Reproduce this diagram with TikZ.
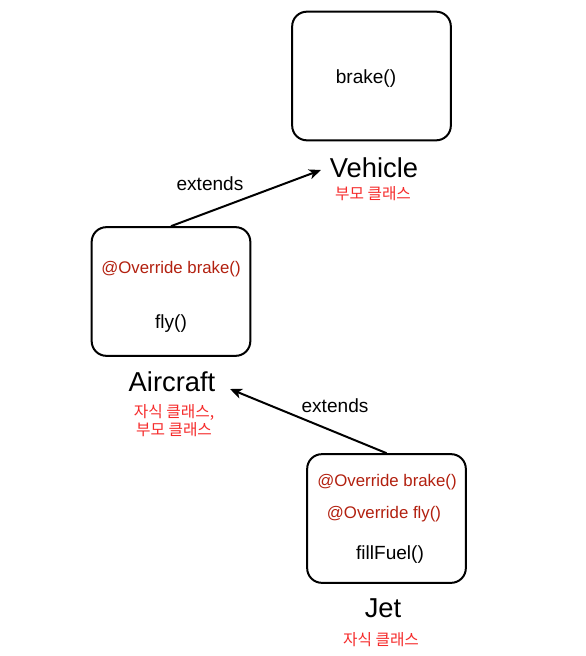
\documentclass[tikz,border=0pt]{standalone}
\usepackage{fontspec}
\setmainfont{Liberation Sans}
\newfontfamily\kofont{Noto Sans CJK KR}
\usepackage{xcolor}
\usetikzlibrary{shapes,arrows.meta,positioning}

\definecolor{overred}{HTML}{B2200F}
\definecolor{kored}{HTML}{F52A2A}

\begin{document}
\begin{tikzpicture}[
        x=0.75pt, y=-0.75pt,
        classbox/.style={draw, line width=1.5pt, rounded corners=11pt,
            minimum width=119pt, minimum height=96.5pt},
        methodtext/.style={font=\fontsize{14.3}{16}\selectfont},
        overtext/.style={text=overred, font=\fontsize{12.6}{15}\selectfont},
        classname/.style={font=\fontsize{20.5}{24}\selectfont},
        roletext/.style={text=kored, align=center, font=\kofont\fontsize{11.8}{13.5}\selectfont},
        extendsarrow/.style={-{Stealth[length=9pt,width=7.5pt,inset=2.5pt]}, line width=1.5pt},
        extendstext/.style={font=\fontsize{14.3}{16}\selectfont}
    ]

                \useasboundingbox (0,0) rectangle (585,656);

                % Vehicle
                \node[classbox] (vehicle) at (371.5,76) {};
                \node[methodtext] (vehbrake) at (366,79) {brake()};
                \node[classname] (vehname) at (374,168) {Vehicle};
                \node[roletext] (vehrole) at (373,194) {부모 클래스};

                % Aircraft
                \node[classbox] (aircraft) at (171,291.5) {};
                \node[overtext] (airbrake) at (171,269) {@Override brake()};
                \node[methodtext] (airfly) at (171,324) {fly()};
                \node[classname] (airname) at (172,382) {Aircraft};
                \node[roletext] (airrole) at (174,421) {자식 클래스,\\부모 클래스};

                % Jet
                \node[classbox] (jet) at (386.5,518.5) {};
                \node[overtext] (jetbrake) at (387,482) {@Override brake()};
                \node[overtext] (jetfly) at (384,514) {@Override fly()};
                \node[methodtext] (jetfuel) at (390,555) {fillFuel()};
                \node[classname] (jetname) at (383,608) {Jet};
                \node[roletext] (jetrole) at (381,640) {자식 클래스};

                % extends
                \coordinate (vehtip) at (321,170);
                \coordinate (airtip) at (230,389);
                \draw[extendsarrow] (aircraft.north) -- (vehtip);
                \draw[extendsarrow] (jet.north) -- (airtip);
                \node[extendstext] (ext1) at (210,184) {extends};
                \node[extendstext] (ext2) at (335,406) {extends};

\end{tikzpicture}
\end{document}
